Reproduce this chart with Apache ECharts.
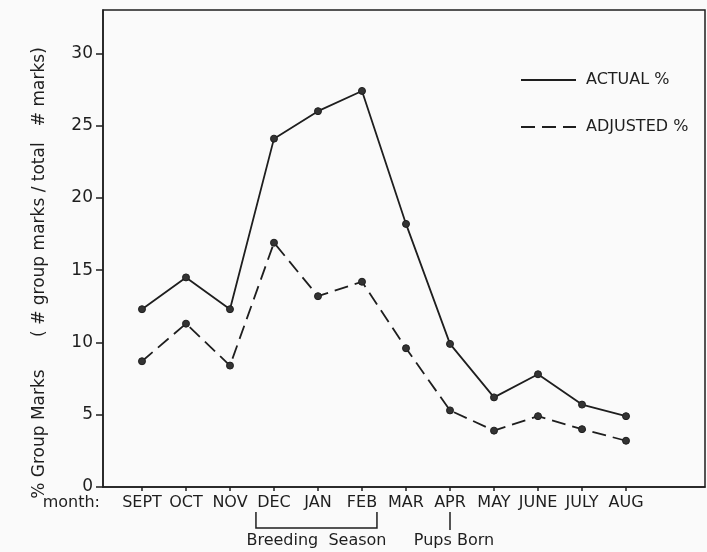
<!DOCTYPE html>
<html>
<head>
<meta charset="utf-8">
<script src="https://cdn.jsdelivr.net/npm/echarts@6/dist/echarts.min.js"></script>
<style>html,body{margin:0;padding:0;background:#fafafa;}#c{width:707px;height:552px;}</style>
</head>
<body>
<div id="c"></div>
<script>
const months = ['SEPT','OCT','NOV','DEC','JAN','FEB','MAR','APR','MAY','JUNE','JULY','AUG'];
const actual = [12.3, 14.5, 12.3, 24.1, 26.0, 27.4, 18.2, 9.9, 6.2, 7.8, 5.7, 4.9];
const adjusted = [8.7, 11.3, 8.4, 16.9, 13.2, 14.2, 9.6, 5.3, 3.9, 4.9, 4.0, 3.2];
const yTicks = [0, 5, 10, 15, 20, 25, 30];
const xTicks = months.map((m, i) => i);

const ink = '#1e1e1e';
const font = 'DejaVu Sans';
const chart = echarts.init(document.getElementById('c'));
const option = {
  backgroundColor: '#fafafa',
  animation: false,
  grid: { left: 103, right: 2, top: 10, bottom: 65, show: true, borderColor: ink, borderWidth: 1.5, backgroundColor: 'transparent' },
  legend: {
    orient: 'vertical', left: 515, top: 67, itemWidth: 55, itemHeight: 14, itemGap: 31,
    itemStyle: { opacity: 0 },
    textStyle: { color: ink, fontFamily: font, fontSize: 16, padding: [0, 0, 0, 5] },
    data: ['ACTUAL %', 'ADJUSTED %']
  },
  xAxis: {
    type: 'value', min: -0.886, max: 12.795,
    splitLine: { show: false },
    axisLine: { onZero: false, lineStyle: { color: ink, width: 1.5 } },
    axisTick: { length: 4, customValues: xTicks, lineStyle: { color: ink, width: 1.5 } },
    axisLabel: { customValues: xTicks, margin: 8, color: ink, fontFamily: font, fontSize: 16, formatter: v => months[Math.round(v)] || '' },
    name: 'month:', nameLocation: 'start', nameGap: 3, nameMoveOverlap: false,
    nameTextStyle: { color: ink, fontFamily: font, fontSize: 16, verticalAlign: 'top', padding: [8, 0, 0, 0] }
  },
  yAxis: {
    type: 'value', min: 0, max: 33,
    splitLine: { show: false },
    axisLine: { onZero: false, lineStyle: { color: ink, width: 1.5 } },
    axisTick: { length: 7, customValues: yTicks, lineStyle: { color: ink, width: 1.5 } },
    axisLabel: { customValues: yTicks, margin: 10, color: ink, fontFamily: font, fontSize: 17 },
    name: '% Group Marks      ( # group marks / total   # marks)',
    nameLocation: 'middle', nameGap: 55, nameRotate: 90, nameMoveOverlap: false,
    nameTextStyle: { color: ink, fontFamily: font, fontSize: 17, padding: [0, 49, 0, 0] }
  },
  series: [
    {
      name: 'ACTUAL %', type: 'line', data: months.map((m, i) => [i, actual[i]]),
      symbol: 'circle', symbolSize: 7, color: ink,
      lineStyle: { color: ink, width: 1.8, type: 'solid' },
      itemStyle: { color: '#333', borderColor: ink, borderWidth: 1 }
    },
    {
      name: 'ADJUSTED %', type: 'line', data: months.map((m, i) => [i, adjusted[i]]),
      symbol: 'circle', symbolSize: 7, color: ink,
      lineStyle: { color: ink, width: 1.8, type: [14, 7] },
      itemStyle: { color: '#333', borderColor: ink, borderWidth: 1 }
    }
  ]
};
chart.setOption(option);

// annotations below the axis, positioned through the axis scale
const px = (x) => chart.convertToPixel({ gridIndex: 0 }, [x, 0]);
const bStart = px(2.59), bEnd = px(5.34), pups = px(7);
const y0 = bStart[1];
chart.setOption({
  graphic: [
    { type: 'polyline', shape: { points: [[bStart[0], y0 + 25], [bStart[0], y0 + 41], [bEnd[0], y0 + 41], [bEnd[0], y0 + 25]] }, style: { stroke: ink, lineWidth: 1.5, fill: null } },
    { type: 'line', shape: { x1: pups[0], y1: y0 + 25, x2: pups[0], y2: y0 + 43 }, style: { stroke: ink, lineWidth: 1.5 } },
    { type: 'text', x: (bStart[0] + bEnd[0]) / 2, y: y0 + 54, style: { text: 'Breeding  Season', fill: ink, font: '16px "' + font + '"', align: 'center', verticalAlign: 'middle' } },
    { type: 'text', x: pups[0] + 4, y: y0 + 54, style: { text: 'Pups Born', fill: ink, font: '16px "' + font + '"', align: 'center', verticalAlign: 'middle' } }
  ]
});
</script>
</body>
</html>
